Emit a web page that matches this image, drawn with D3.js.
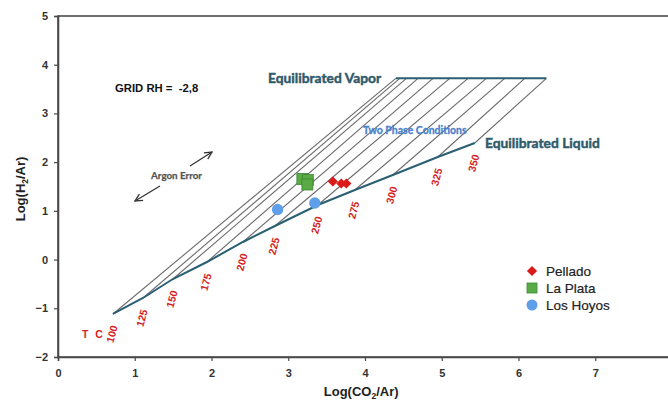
<!DOCTYPE html>
<html><head><meta charset="utf-8">
<script src="https://cdn.jsdelivr.net/npm/d3@7"></script>
<style>
body{margin:0;background:#fff;}
svg{display:block;}
</style></head>
<body><svg id="c" width="668" height="400"></svg>
<script>
// ---- data ----
const xTicks = [0,1,2,3,4,5,6,7];
const yTicks = [-2,-1,0,1,2,3,4,5];
const temperatures = [100,125,150,175,200,225,250,275,300,325,350];
const liquidLogCO2 = [0.716,1.107,1.497,1.940,2.409,2.826,3.385,3.867,4.362,4.948,5.430];
const liquidLogH2  = [-1.117,-0.789,-0.399,-0.050,0.361,0.689,1.120,1.428,1.736,2.106,2.393];
const vaporLogCO2  = [4.401,4.453,4.540,4.691,4.887,5.104,5.342,5.582,5.820,6.081,6.363];
const vaporLogH2   = 3.72;
const pelladoX = [3.581,3.691,3.757];
const pelladoY = [1.603,1.562,1.562];
const laPlataX = [3.184,3.255,3.249];
const laPlataY = [1.654,1.634,1.541];
const losHoyosX = [2.861,3.346];
const losHoyosY = [1.028,1.161];
const seriesNames = ["Pellado","La Plata","Los Hoyos"];

// ---- layout ----
const svg = d3.select("#c");
const x = d3.scaleLinear().domain([0,8]).range([58,672]);
const y = d3.scaleLinear().domain([-2,5]).range([357,16]);
const axisCol = "#4a4a4a", teal = "#2b5f74", red = "#d51f26";
const arial = "Liberation Sans, Arial, sans-serif";
const lato = "Lato, 'Open Sans', sans-serif";

// frame
svg.append("rect").attr("x",x(0)).attr("y",y(5)).attr("width",x(8)-x(0)).attr("height",y(-2)-y(5))
  .attr("fill","none").attr("stroke",axisCol).attr("stroke-width",1.6);

const gx = svg.append("g").attr("transform",`translate(0,${y(-2)})`)
  .call(d3.axisBottom(x).tickValues(xTicks).tickSize(4).tickPadding(8).tickFormat(d3.format("d")));
const gy = svg.append("g").attr("transform",`translate(${x(0)},0)`)
  .call(d3.axisLeft(y).tickValues(yTicks).tickSize(4).tickPadding(6).tickFormat(d3.format("d")));
[gx,gy].forEach(g=>{
  g.select(".domain").attr("stroke",axisCol).attr("stroke-width",1.6);
  g.selectAll(".tick line").attr("stroke",axisCol).attr("stroke-width",1.2);
  g.selectAll(".tick text").attr("fill","#333").attr("font-family",arial)
   .attr("font-size",11).attr("font-weight","bold");
});

// axis titles
const yt = svg.append("text").attr("transform",`translate(25,${y(1.45)}) rotate(-90)`)
  .attr("text-anchor","middle").attr("font-family",arial)
  .attr("font-size",13).attr("font-weight","bold").attr("fill","#222");
yt.append("tspan").text("Log(H");
yt.append("tspan").text("2").attr("font-size",8.5).attr("dy",3);
yt.append("tspan").text("/Ar)").attr("dy",-3);
const xt = svg.append("text").attr("x",x(3.95)).attr("y",396)
  .attr("text-anchor","middle").attr("font-family",arial)
  .attr("font-size",13).attr("font-weight","bold").attr("fill","#222");
xt.append("tspan").text("Log(CO");
xt.append("tspan").text("2").attr("font-size",8.5).attr("dy",3);
xt.append("tspan").text("/Ar)").attr("dy",-3);

// isotherms (grid)
const iso = temperatures.map((t,i)=>({t, lx:liquidLogCO2[i], ly:liquidLogH2[i], vx:vaporLogCO2[i], vy:vaporLogH2}));
svg.append("g").selectAll("line").data(iso).join("line")
  .attr("x1",d=>x(d.lx)).attr("y1",d=>y(d.ly)).attr("x2",d=>x(d.vx)).attr("y2",d=>y(d.vy))
  .attr("stroke","#6b6b6b").attr("stroke-width",1.1);

// liquid line
svg.append("path").datum(iso).attr("fill","none").attr("stroke",teal).attr("stroke-width",2)
  .attr("d",d3.line().x(d=>x(d.lx)).y(d=>y(d.ly)));
// vapor line
svg.append("line").attr("x1",x(vaporLogCO2[0])).attr("x2",x(vaporLogCO2[vaporLogCO2.length-1]))
  .attr("y1",y(vaporLogH2)).attr("y2",y(vaporLogH2)).attr("stroke",teal).attr("stroke-width",2);

// temperature labels
svg.append("g").selectAll("text").data(iso).join("text")
  .attr("transform",d=>`translate(${x(d.lx)-1},${y(d.ly)+20}) rotate(-75)`)
  .attr("text-anchor","middle").attr("dy","0.35em")
  .attr("font-family",arial).attr("font-size",10.5).attr("font-weight","bold")
  .attr("fill",red).text(d=>d.t);
svg.append("text").attr("x",82).attr("y",338).attr("fill",red)
  .attr("font-family",arial).attr("font-size",10.5).attr("font-weight","bold")
  .attr("letter-spacing",2).text("T C");

// text annotations
svg.append("text").attr("x",268).attr("y",83).attr("fill","#2f5a6a").attr("stroke","#2f5a6a").attr("stroke-width",0.45)
  .attr("font-family",lato).attr("font-weight","bold").attr("font-size",13.8).text("Equilibrated Vapor");
svg.append("text").attr("x",485).attr("y",148).attr("fill","#2f5a6a").attr("stroke","#2f5a6a").attr("stroke-width",0.45)
  .attr("font-family",lato).attr("font-weight","bold").attr("font-size",13.8).text("Equilibrated Liquid");
svg.append("text").attr("x",363).attr("y",134).attr("fill","#4c7fca").attr("stroke","#4c7fca").attr("stroke-width",0.3)
  .attr("font-family",lato).attr("font-weight","bold").attr("font-size",10.5).text("Two Phase Conditions");
svg.append("text").attr("x",115).attr("y",92).attr("fill","#111")
  .attr("font-family",arial).attr("font-weight","bold")
  .attr("font-size",11.3).attr("xml:space","preserve").text("GRID RH =  -2,8");
svg.append("text").attr("x",151).attr("y",179).attr("fill","#555").attr("stroke","#555").attr("stroke-width",0.25)
  .attr("font-family",lato).attr("font-weight","bold").attr("font-size",9.8).text("Argon Error");

// arrows
const defs = svg.append("defs");
defs.append("marker").attr("id","ah").attr("viewBox","0 0 10 10").attr("refX",9).attr("refY",5)
  .attr("markerWidth",7).attr("markerHeight",7).attr("orient","auto")
  .append("path").attr("d","M1,1 L9,5 L1,9").attr("fill","none").attr("stroke","#333").attr("stroke-width",1.5);
svg.append("line").attr("x1",190).attr("y1",166).attr("x2",212).attr("y2",152)
  .attr("stroke","#333").attr("stroke-width",1.3).attr("marker-end","url(#ah)");
svg.append("line").attr("x1",160).attr("y1",186).attr("x2",135).attr("y2",201)
  .attr("stroke","#333").attr("stroke-width",1.3).attr("marker-end","url(#ah)");

// data points
const diamondPath = d3.symbol().type(d3.symbolSquare).size(52)();
svg.append("g").selectAll("path").data(pelladoX.map((v,i)=>[v,pelladoY[i]])).join("path")
  .attr("d",diamondPath).attr("transform",d=>`translate(${x(d[0])},${y(d[1])}) rotate(45)`)
  .attr("fill","#dd1a1a");
svg.append("g").selectAll("rect").data(laPlataX.map((v,i)=>[v,laPlataY[i]])).join("rect")
  .attr("x",d=>x(d[0])-5.5).attr("y",d=>y(d[1])-5.5).attr("width",11).attr("height",11)
  .attr("fill","#5aab47").attr("stroke","#3d8a30").attr("stroke-width",0.8);
svg.append("g").selectAll("circle").data(losHoyosX.map((v,i)=>[v,losHoyosY[i]])).join("circle")
  .attr("cx",d=>x(d[0])).attr("cy",d=>y(d[1])).attr("r",5.7).attr("fill","#5f9fea");

// legend
const lg = svg.append("g").attr("transform","translate(532,271)");
const items = lg.selectAll("g").data(seriesNames).join("g").attr("transform",(d,i)=>`translate(0,${i*17})`);
items.each(function(d,i){
  const g = d3.select(this);
  if(i===0) g.append("path").attr("d",diamondPath).attr("transform","rotate(45)").attr("fill","#dd1a1a");
  if(i===1) g.append("rect").attr("x",-5).attr("y",-5).attr("width",10).attr("height",10).attr("fill","#5aab47").attr("stroke","#3d8a30").attr("stroke-width",0.8);
  if(i===2) g.append("circle").attr("r",5.5).attr("fill","#5f9fea");
  g.append("text").attr("x",14).attr("dy","0.36em").attr("font-family",arial)
   .attr("font-size",13.5).attr("fill","#222").attr("stroke","#222").attr("stroke-width",0.2).text(d);
});
</script></body></html>
